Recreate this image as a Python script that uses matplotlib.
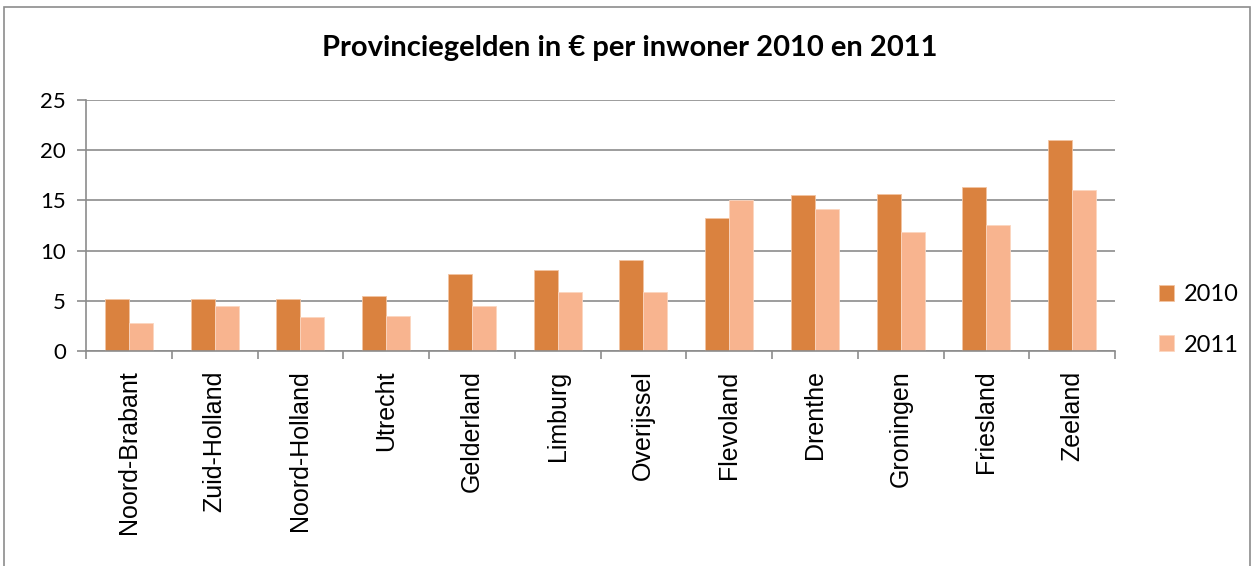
import matplotlib.pyplot as plt
from matplotlib.patches import Rectangle
import numpy as np

provinces = ['Noord-Brabant', 'Zuid-Holland', 'Noord-Holland', 'Utrecht', 'Gelderland',
             'Limburg', 'Overijssel', 'Flevoland', 'Drenthe', 'Groningen', 'Friesland', 'Zeeland']
values_2010 = [5.15, 5.15, 5.15, 5.5, 7.7, 8.05, 9.1, 13.2, 15.5, 15.6, 16.35, 21.0]
values_2011 = [2.8, 4.5, 3.35, 3.5, 4.5, 5.9, 5.9, 15.0, 14.1, 11.9, 12.55, 16.0]

plt.rcParams['font.family'] = ['Lato', 'DejaVu Sans']

fig = plt.figure(figsize=(12.55, 5.66), dpi=100)
ax = fig.add_axes([86/1255, 1-351/566, (1115-86)/1255, (351-100)/566])

# grey frame around the chart area
fig.patches.append(Rectangle((4/1255, -0.01), 1246/1255, 1.01-7/566, transform=fig.transFigure,
                             fill=False, edgecolor='#8c8c8c', linewidth=1.2))

x = np.arange(len(provinces))
w = 0.28
ax.bar(x - w/2, values_2010, w, color='#DA823F', edgecolor='#F2C4A2', linewidth=0.6, label='2010')
ax.bar(x + w/2, values_2011, w, color='#F8B48F', edgecolor='#FBD6C0', linewidth=0.6, label='2011')

ax.set_xlim(-0.5, len(provinces) - 0.5)
ax.set_ylim(0, 25)
ax.set_yticks([0, 5, 10, 15, 20, 25])
ax.yaxis.grid(True, color='#8c8c8c', linewidth=1.2)
ax.set_axisbelow(True)

# separators between categories, labels in the middle
ax.set_xticks(np.arange(-0.5, len(provinces)), labels=[])
ax.set_xticks(x, labels=provinces, minor=True, rotation=90, family=['Liberation Sans'])
ax.tick_params(axis='x', which='major', length=6, color='#8c8c8c', width=1.2)
ax.tick_params(axis='x', which='minor', length=0, pad=14, labelsize=18)
ax.tick_params(axis='y', length=6.5, color='#8c8c8c', width=1.2, labelsize=16, pad=8)

for s in ['top', 'right']:
    ax.spines[s].set_visible(False)
for s in ['left', 'bottom']:
    ax.spines[s].set_color('#8c8c8c')
    ax.spines[s].set_linewidth(1.2)

fig.text(630/1255, 1-48/566, 'Provinciegelden in € per inwoner 2010 en 2011',
         ha='center', va='center', fontsize=21, fontweight='bold')

ax.legend(loc='center left', bbox_to_anchor=(1.022, 0.124), frameon=False, fontsize=17,
          handlelength=0.65, handleheight=0.65, labelspacing=1.25, handletextpad=0.4)

fig.savefig('out.png', dpi=100)
